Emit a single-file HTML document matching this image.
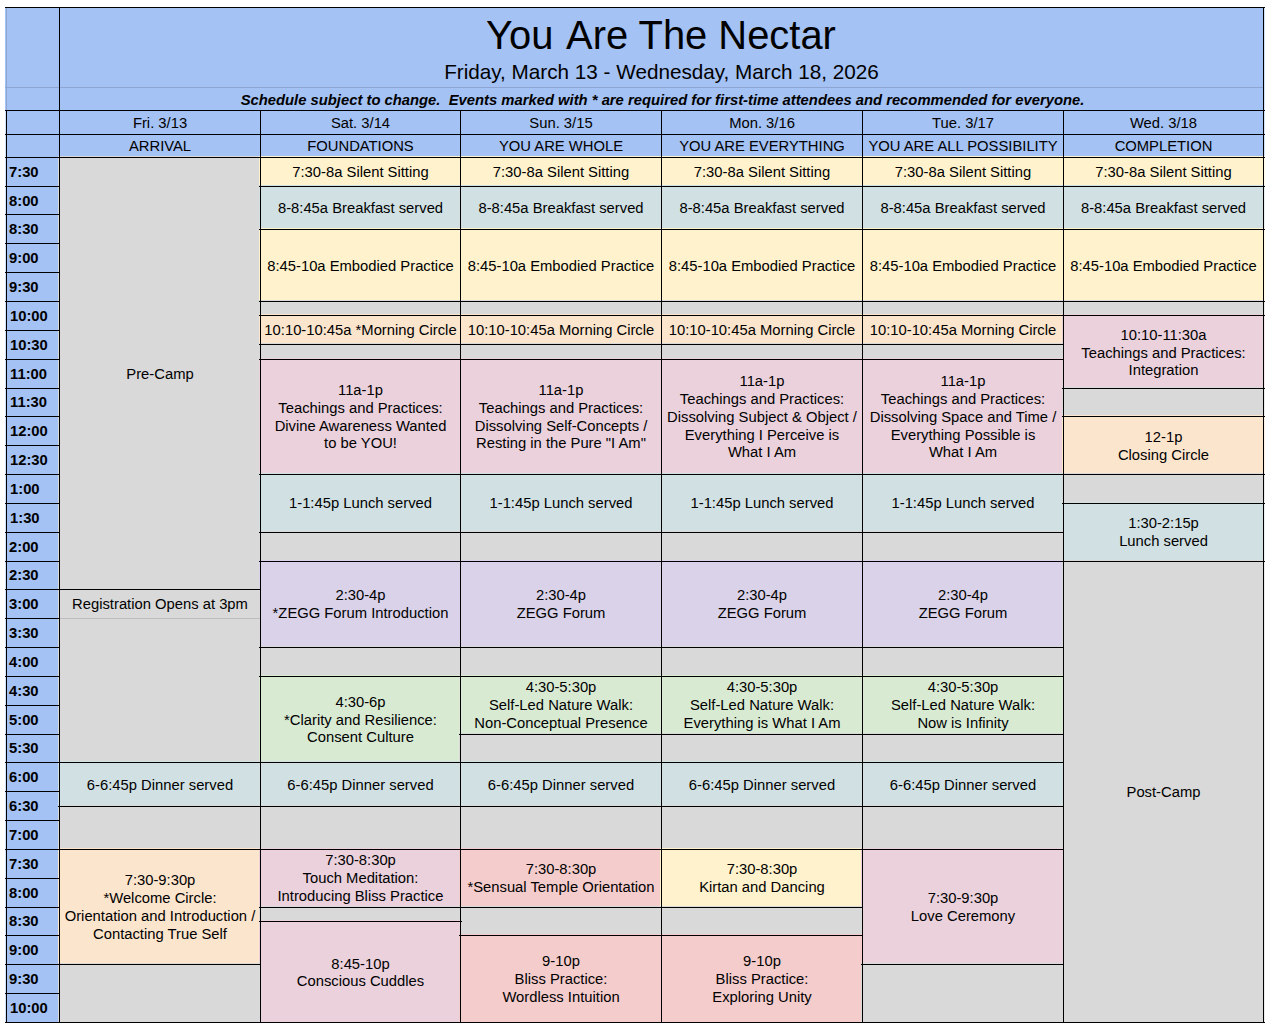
<!DOCTYPE html>
<html><head><meta charset="utf-8"><title>You Are The Nectar</title>
<style>
html,body{margin:0;padding:0;background:#fff;}
body{width:1270px;height:1030px;position:relative;overflow:hidden;font-family:"Liberation Sans",Arial,sans-serif;color:#000;}
.b{position:absolute;}
.c{position:absolute;height:18px;line-height:18px;text-align:center;font-size:14.79px;white-space:nowrap;}
.l{position:absolute;background:#000;}
.g{position:absolute;background:#8ea5d4;}
.g2{position:absolute;background:#bdbdbd;}
.t{text-align:left;font-weight:bold;}
</style></head><body>
<div class="b" style="left:5px;top:7px;width:1260px;height:150px;background:#a4c2f4"></div>
<div class="c" style="left:59.5px;top:9px;width:1203px;height:52px;font-size:39.92px;line-height:52px;">You <span style="margin-left:1.5px">Are</span> The Nectar</div>
<div class="c" style="left:60px;top:58px;width:1203px;height:28px;font-size:20.7px;line-height:28px;">Friday, March 13 - Wednesday, March 18, 2026</div>
<div class="c" style="left:61px;top:89px;width:1203px;height:22px;line-height:22px;font-size:14.8px;font-weight:bold;font-style:italic;white-space:pre;">Schedule subject to change.  Events marked with * are required for first-time attendees and recommended for everyone.</div>
<div class="c " style="left:60px;top:114px;width:200px">Fri. 3/13</div>
<div class="c " style="left:60px;top:137px;width:200px">ARRIVAL</div>
<div class="c " style="left:261px;top:114px;width:199px">Sat. 3/14</div>
<div class="c " style="left:261px;top:137px;width:199px">FOUNDATIONS</div>
<div class="c " style="left:461px;top:114px;width:200px">Sun. 3/15</div>
<div class="c " style="left:461px;top:137px;width:200px">YOU ARE WHOLE</div>
<div class="c " style="left:662px;top:114px;width:200px">Mon. 3/16</div>
<div class="c " style="left:662px;top:137px;width:200px">YOU ARE EVERYTHING</div>
<div class="c " style="left:863px;top:114px;width:200px">Tue. 3/17</div>
<div class="c " style="left:863px;top:137px;width:200px">YOU ARE ALL POSSIBILITY</div>
<div class="c " style="left:1064px;top:114px;width:199px">Wed. 3/18</div>
<div class="c " style="left:1064px;top:137px;width:199px">COMPLETION</div>
<div class="b" style="left:5px;top:157px;width:54px;height:865px;background:#a4c2f4"></div>
<div class="c t" style="left:9px;top:163px;width:50px">7:30</div>
<div class="c t" style="left:9px;top:192px;width:50px">8:00</div>
<div class="c t" style="left:9px;top:220px;width:50px">8:30</div>
<div class="c t" style="left:9px;top:249px;width:50px">9:00</div>
<div class="c t" style="left:9px;top:278px;width:50px">9:30</div>
<div class="c t" style="left:10px;top:307px;width:49px">10:00</div>
<div class="c t" style="left:10px;top:336px;width:49px">10:30</div>
<div class="c t" style="left:10px;top:365px;width:49px">11:00</div>
<div class="c t" style="left:10px;top:393px;width:49px">11:30</div>
<div class="c t" style="left:10px;top:422px;width:49px">12:00</div>
<div class="c t" style="left:10px;top:451px;width:49px">12:30</div>
<div class="c t" style="left:10px;top:480px;width:49px">1:00</div>
<div class="c t" style="left:10px;top:509px;width:49px">1:30</div>
<div class="c t" style="left:9px;top:538px;width:50px">2:00</div>
<div class="c t" style="left:9px;top:566px;width:50px">2:30</div>
<div class="c t" style="left:9px;top:595px;width:50px">3:00</div>
<div class="c t" style="left:9px;top:624px;width:50px">3:30</div>
<div class="c t" style="left:9px;top:653px;width:50px">4:00</div>
<div class="c t" style="left:9px;top:682px;width:50px">4:30</div>
<div class="c t" style="left:9px;top:711px;width:50px">5:00</div>
<div class="c t" style="left:9px;top:739px;width:50px">5:30</div>
<div class="c t" style="left:9px;top:768px;width:50px">6:00</div>
<div class="c t" style="left:9px;top:797px;width:50px">6:30</div>
<div class="c t" style="left:9px;top:826px;width:50px">7:00</div>
<div class="c t" style="left:9px;top:855px;width:50px">7:30</div>
<div class="c t" style="left:9px;top:884px;width:50px">8:00</div>
<div class="c t" style="left:9px;top:912px;width:50px">8:30</div>
<div class="c t" style="left:9px;top:941px;width:50px">9:00</div>
<div class="c t" style="left:9px;top:970px;width:50px">9:30</div>
<div class="c t" style="left:10px;top:999px;width:49px">10:00</div>
<div class="b" style="left:58px;top:156px;width:202px;height:433px;background:#d9d9d9"></div>
<div class="b" style="left:259px;top:156px;width:201px;height:30px;background:#fff2cc"></div>
<div class="b" style="left:459px;top:156px;width:202px;height:30px;background:#fff2cc"></div>
<div class="b" style="left:660px;top:156px;width:202px;height:30px;background:#fff2cc"></div>
<div class="b" style="left:861px;top:156px;width:202px;height:30px;background:#fff2cc"></div>
<div class="b" style="left:1062px;top:156px;width:203px;height:30px;background:#fff2cc"></div>
<div class="b" style="left:259px;top:185px;width:201px;height:44px;background:#d0e0e3"></div>
<div class="b" style="left:459px;top:185px;width:202px;height:44px;background:#d0e0e3"></div>
<div class="b" style="left:660px;top:185px;width:202px;height:44px;background:#d0e0e3"></div>
<div class="b" style="left:861px;top:185px;width:202px;height:44px;background:#d0e0e3"></div>
<div class="b" style="left:1062px;top:185px;width:203px;height:44px;background:#d0e0e3"></div>
<div class="b" style="left:259px;top:228px;width:201px;height:73px;background:#fff2cc"></div>
<div class="b" style="left:459px;top:228px;width:202px;height:73px;background:#fff2cc"></div>
<div class="b" style="left:660px;top:228px;width:202px;height:73px;background:#fff2cc"></div>
<div class="b" style="left:861px;top:228px;width:202px;height:73px;background:#fff2cc"></div>
<div class="b" style="left:1062px;top:228px;width:203px;height:73px;background:#fff2cc"></div>
<div class="b" style="left:259px;top:300px;width:201px;height:15px;background:#d9d9d9"></div>
<div class="b" style="left:459px;top:300px;width:202px;height:15px;background:#d9d9d9"></div>
<div class="b" style="left:660px;top:300px;width:202px;height:15px;background:#d9d9d9"></div>
<div class="b" style="left:861px;top:300px;width:202px;height:15px;background:#d9d9d9"></div>
<div class="b" style="left:1062px;top:300px;width:203px;height:15px;background:#d9d9d9"></div>
<div class="b" style="left:259px;top:314px;width:201px;height:30px;background:#fce5cd"></div>
<div class="b" style="left:459px;top:314px;width:202px;height:30px;background:#fce5cd"></div>
<div class="b" style="left:660px;top:314px;width:202px;height:30px;background:#fce5cd"></div>
<div class="b" style="left:861px;top:314px;width:202px;height:30px;background:#fce5cd"></div>
<div class="b" style="left:1062px;top:314px;width:203px;height:74px;background:#ead1dc"></div>
<div class="b" style="left:259px;top:343px;width:201px;height:16px;background:#d9d9d9"></div>
<div class="b" style="left:459px;top:343px;width:202px;height:16px;background:#d9d9d9"></div>
<div class="b" style="left:660px;top:343px;width:202px;height:16px;background:#d9d9d9"></div>
<div class="b" style="left:861px;top:343px;width:202px;height:16px;background:#d9d9d9"></div>
<div class="b" style="left:259px;top:358px;width:201px;height:116px;background:#ead1dc"></div>
<div class="b" style="left:459px;top:358px;width:202px;height:116px;background:#ead1dc"></div>
<div class="b" style="left:660px;top:358px;width:202px;height:116px;background:#ead1dc"></div>
<div class="b" style="left:861px;top:358px;width:202px;height:116px;background:#ead1dc"></div>
<div class="b" style="left:1062px;top:387px;width:203px;height:29px;background:#d9d9d9"></div>
<div class="b" style="left:1062px;top:415px;width:203px;height:59px;background:#fce5cd"></div>
<div class="b" style="left:259px;top:473px;width:201px;height:59px;background:#d0e0e3"></div>
<div class="b" style="left:459px;top:473px;width:202px;height:59px;background:#d0e0e3"></div>
<div class="b" style="left:660px;top:473px;width:202px;height:59px;background:#d0e0e3"></div>
<div class="b" style="left:861px;top:473px;width:202px;height:59px;background:#d0e0e3"></div>
<div class="b" style="left:1062px;top:473px;width:203px;height:30px;background:#d9d9d9"></div>
<div class="b" style="left:1062px;top:502px;width:203px;height:59px;background:#d0e0e3"></div>
<div class="b" style="left:259px;top:531px;width:201px;height:30px;background:#d9d9d9"></div>
<div class="b" style="left:459px;top:531px;width:202px;height:30px;background:#d9d9d9"></div>
<div class="b" style="left:660px;top:531px;width:202px;height:30px;background:#d9d9d9"></div>
<div class="b" style="left:861px;top:531px;width:202px;height:30px;background:#d9d9d9"></div>
<div class="b" style="left:259px;top:560px;width:201px;height:87px;background:#d9d2e9"></div>
<div class="b" style="left:459px;top:560px;width:202px;height:87px;background:#d9d2e9"></div>
<div class="b" style="left:660px;top:560px;width:202px;height:87px;background:#d9d2e9"></div>
<div class="b" style="left:861px;top:560px;width:202px;height:87px;background:#d9d2e9"></div>
<div class="b" style="left:1062px;top:560px;width:203px;height:462px;background:#d9d9d9"></div>
<div class="b" style="left:58px;top:588px;width:202px;height:30px;background:#d9d9d9"></div>
<div class="b" style="left:58px;top:617px;width:202px;height:145px;background:#d9d9d9"></div>
<div class="b" style="left:259px;top:646px;width:201px;height:30px;background:#d9d9d9"></div>
<div class="b" style="left:459px;top:646px;width:202px;height:30px;background:#d9d9d9"></div>
<div class="b" style="left:660px;top:646px;width:202px;height:30px;background:#d9d9d9"></div>
<div class="b" style="left:861px;top:646px;width:202px;height:30px;background:#d9d9d9"></div>
<div class="b" style="left:259px;top:675px;width:201px;height:87px;background:#d9ead3"></div>
<div class="b" style="left:459px;top:675px;width:202px;height:59px;background:#d9ead3"></div>
<div class="b" style="left:660px;top:675px;width:202px;height:59px;background:#d9ead3"></div>
<div class="b" style="left:861px;top:675px;width:202px;height:59px;background:#d9ead3"></div>
<div class="b" style="left:459px;top:733px;width:202px;height:29px;background:#d9d9d9"></div>
<div class="b" style="left:660px;top:733px;width:202px;height:29px;background:#d9d9d9"></div>
<div class="b" style="left:861px;top:733px;width:202px;height:29px;background:#d9d9d9"></div>
<div class="b" style="left:58px;top:761px;width:202px;height:45px;background:#d0e0e3"></div>
<div class="b" style="left:259px;top:761px;width:201px;height:45px;background:#d0e0e3"></div>
<div class="b" style="left:459px;top:761px;width:202px;height:45px;background:#d0e0e3"></div>
<div class="b" style="left:660px;top:761px;width:202px;height:45px;background:#d0e0e3"></div>
<div class="b" style="left:861px;top:761px;width:202px;height:45px;background:#d0e0e3"></div>
<div class="b" style="left:58px;top:805px;width:202px;height:44px;background:#d9d9d9"></div>
<div class="b" style="left:259px;top:805px;width:201px;height:44px;background:#d9d9d9"></div>
<div class="b" style="left:459px;top:805px;width:202px;height:44px;background:#d9d9d9"></div>
<div class="b" style="left:660px;top:805px;width:202px;height:44px;background:#d9d9d9"></div>
<div class="b" style="left:861px;top:805px;width:202px;height:44px;background:#d9d9d9"></div>
<div class="b" style="left:58px;top:848px;width:202px;height:116px;background:#fce5cd"></div>
<div class="b" style="left:259px;top:848px;width:201px;height:59px;background:#ead1dc"></div>
<div class="b" style="left:459px;top:848px;width:202px;height:59px;background:#f4cccc"></div>
<div class="b" style="left:660px;top:848px;width:202px;height:59px;background:#fff2cc"></div>
<div class="b" style="left:861px;top:848px;width:202px;height:116px;background:#ead1dc"></div>
<div class="b" style="left:259px;top:906px;width:201px;height:15px;background:#d9d9d9"></div>
<div class="b" style="left:459px;top:906px;width:202px;height:29px;background:#d9d9d9"></div>
<div class="b" style="left:660px;top:906px;width:202px;height:29px;background:#d9d9d9"></div>
<div class="b" style="left:259px;top:920px;width:201px;height:102px;background:#ead1dc"></div>
<div class="b" style="left:459px;top:934px;width:202px;height:88px;background:#f4cccc"></div>
<div class="b" style="left:660px;top:934px;width:202px;height:88px;background:#f4cccc"></div>
<div class="b" style="left:58px;top:963px;width:202px;height:59px;background:#d9d9d9"></div>
<div class="b" style="left:861px;top:963px;width:202px;height:59px;background:#d9d9d9"></div>
<div class="c " style="left:60px;top:365px;width:200px">Pre-Camp</div>
<div class="c " style="left:261px;top:163px;width:199px">7:30-8a Silent Sitting</div>
<div class="c " style="left:461px;top:163px;width:200px">7:30-8a Silent Sitting</div>
<div class="c " style="left:662px;top:163px;width:200px">7:30-8a Silent Sitting</div>
<div class="c " style="left:863px;top:163px;width:200px">7:30-8a Silent Sitting</div>
<div class="c " style="left:1064px;top:163px;width:199px">7:30-8a Silent Sitting</div>
<div class="c " style="left:261px;top:199px;width:199px">8-8:45a Breakfast served</div>
<div class="c " style="left:461px;top:199px;width:200px">8-8:45a Breakfast served</div>
<div class="c " style="left:662px;top:199px;width:200px">8-8:45a Breakfast served</div>
<div class="c " style="left:863px;top:199px;width:200px">8-8:45a Breakfast served</div>
<div class="c " style="left:1064px;top:199px;width:199px">8-8:45a Breakfast served</div>
<div class="c " style="left:261px;top:257px;width:199px">8:45-10a Embodied Practice</div>
<div class="c " style="left:461px;top:257px;width:200px">8:45-10a Embodied Practice</div>
<div class="c " style="left:662px;top:257px;width:200px">8:45-10a Embodied Practice</div>
<div class="c " style="left:863px;top:257px;width:200px">8:45-10a Embodied Practice</div>
<div class="c " style="left:1064px;top:257px;width:199px">8:45-10a Embodied Practice</div>
<div class="c " style="left:261px;top:321px;width:199px">10:10-10:45a *Morning Circle</div>
<div class="c " style="left:461px;top:321px;width:200px">10:10-10:45a Morning Circle</div>
<div class="c " style="left:662px;top:321px;width:200px">10:10-10:45a Morning Circle</div>
<div class="c " style="left:863px;top:321px;width:200px">10:10-10:45a Morning Circle</div>
<div class="c " style="left:1064px;top:326px;width:199px">10:10-11:30a</div>
<div class="c " style="left:1064px;top:344px;width:199px">Teachings and Practices:</div>
<div class="c " style="left:1064px;top:361px;width:199px">Integration</div>
<div class="c " style="left:261px;top:381px;width:199px">11a-1p</div>
<div class="c " style="left:261px;top:399px;width:199px">Teachings and Practices:</div>
<div class="c " style="left:261px;top:417px;width:199px">Divine Awareness Wanted</div>
<div class="c " style="left:261px;top:434px;width:199px">to be YOU!</div>
<div class="c " style="left:461px;top:381px;width:200px">11a-1p</div>
<div class="c " style="left:461px;top:399px;width:200px">Teachings and Practices:</div>
<div class="c " style="left:461px;top:417px;width:200px">Dissolving Self-Concepts /</div>
<div class="c " style="left:461px;top:434px;width:200px">Resting in the Pure "I Am"</div>
<div class="c " style="left:662px;top:372px;width:200px">11a-1p</div>
<div class="c " style="left:662px;top:390px;width:200px">Teachings and Practices:</div>
<div class="c " style="left:662px;top:408px;width:200px">Dissolving Subject &amp; Object /</div>
<div class="c " style="left:662px;top:426px;width:200px">Everything I Perceive is</div>
<div class="c " style="left:662px;top:443px;width:200px">What I Am</div>
<div class="c " style="left:863px;top:372px;width:200px">11a-1p</div>
<div class="c " style="left:863px;top:390px;width:200px">Teachings and Practices:</div>
<div class="c " style="left:863px;top:408px;width:200px">Dissolving Space and Time /</div>
<div class="c " style="left:863px;top:426px;width:200px">Everything Possible is</div>
<div class="c " style="left:863px;top:443px;width:200px">What I Am</div>
<div class="c " style="left:1064px;top:428px;width:199px">12-1p</div>
<div class="c " style="left:1064px;top:446px;width:199px">Closing Circle</div>
<div class="c " style="left:261px;top:494px;width:199px">1-1:45p Lunch served</div>
<div class="c " style="left:461px;top:494px;width:200px">1-1:45p Lunch served</div>
<div class="c " style="left:662px;top:494px;width:200px">1-1:45p Lunch served</div>
<div class="c " style="left:863px;top:494px;width:200px">1-1:45p Lunch served</div>
<div class="c " style="left:1064px;top:514px;width:199px">1:30-2:15p</div>
<div class="c " style="left:1064px;top:532px;width:199px">Lunch served</div>
<div class="c " style="left:261px;top:586px;width:199px">2:30-4p</div>
<div class="c " style="left:261px;top:604px;width:199px">*ZEGG Forum Introduction</div>
<div class="c " style="left:461px;top:586px;width:200px">2:30-4p</div>
<div class="c " style="left:461px;top:604px;width:200px">ZEGG Forum</div>
<div class="c " style="left:662px;top:586px;width:200px">2:30-4p</div>
<div class="c " style="left:662px;top:604px;width:200px">ZEGG Forum</div>
<div class="c " style="left:863px;top:586px;width:200px">2:30-4p</div>
<div class="c " style="left:863px;top:604px;width:200px">ZEGG Forum</div>
<div class="c " style="left:1064px;top:783px;width:199px">Post-Camp</div>
<div class="c " style="left:60px;top:595px;width:200px">Registration Opens at 3pm</div>
<div class="c " style="left:261px;top:693px;width:199px">4:30-6p</div>
<div class="c " style="left:261px;top:711px;width:199px">*Clarity and Resilience:</div>
<div class="c " style="left:261px;top:728px;width:199px">Consent Culture</div>
<div class="c " style="left:461px;top:678px;width:200px">4:30-5:30p</div>
<div class="c " style="left:461px;top:696px;width:200px">Self-Led Nature Walk:</div>
<div class="c " style="left:461px;top:714px;width:200px">Non-Conceptual Presence</div>
<div class="c " style="left:662px;top:678px;width:200px">4:30-5:30p</div>
<div class="c " style="left:662px;top:696px;width:200px">Self-Led Nature Walk:</div>
<div class="c " style="left:662px;top:714px;width:200px">Everything is What I Am</div>
<div class="c " style="left:863px;top:678px;width:200px">4:30-5:30p</div>
<div class="c " style="left:863px;top:696px;width:200px">Self-Led Nature Walk:</div>
<div class="c " style="left:863px;top:714px;width:200px">Now is Infinity</div>
<div class="c " style="left:60px;top:776px;width:200px">6-6:45p Dinner served</div>
<div class="c " style="left:261px;top:776px;width:199px">6-6:45p Dinner served</div>
<div class="c " style="left:461px;top:776px;width:200px">6-6:45p Dinner served</div>
<div class="c " style="left:662px;top:776px;width:200px">6-6:45p Dinner served</div>
<div class="c " style="left:863px;top:776px;width:200px">6-6:45p Dinner served</div>
<div class="c " style="left:60px;top:871px;width:200px">7:30-9:30p</div>
<div class="c " style="left:60px;top:889px;width:200px">*Welcome Circle:</div>
<div class="c " style="left:60px;top:907px;width:200px">Orientation and Introduction /</div>
<div class="c " style="left:60px;top:925px;width:200px">Contacting True Self</div>
<div class="c " style="left:261px;top:851px;width:199px">7:30-8:30p</div>
<div class="c " style="left:261px;top:869px;width:199px">Touch Meditation:</div>
<div class="c " style="left:261px;top:887px;width:199px">Introducing Bliss Practice</div>
<div class="c " style="left:461px;top:860px;width:200px">7:30-8:30p</div>
<div class="c " style="left:461px;top:878px;width:200px">*Sensual Temple Orientation</div>
<div class="c " style="left:662px;top:860px;width:200px">7:30-8:30p</div>
<div class="c " style="left:662px;top:878px;width:200px">Kirtan and Dancing</div>
<div class="c " style="left:863px;top:889px;width:200px">7:30-9:30p</div>
<div class="c " style="left:863px;top:907px;width:200px">Love Ceremony</div>
<div class="c " style="left:261px;top:955px;width:199px">8:45-10p</div>
<div class="c " style="left:261px;top:972px;width:199px">Conscious Cuddles</div>
<div class="c " style="left:461px;top:952px;width:200px">9-10p</div>
<div class="c " style="left:461px;top:970px;width:200px">Bliss Practice:</div>
<div class="c " style="left:461px;top:988px;width:200px">Wordless Intuition</div>
<div class="c " style="left:662px;top:952px;width:200px">9-10p</div>
<div class="c " style="left:662px;top:970px;width:200px">Bliss Practice:</div>
<div class="c " style="left:662px;top:988px;width:200px">Exploring Unity</div>
<div class="b" style="left:1264px;top:8px;width:1px;height:1014px;background:rgba(255,255,255,.5)"></div>
<div class="b" style="left:5px;top:111px;width:1px;height:911px;background:rgba(255,255,255,.5)"></div>
<div class="l" style="left:5px;top:7px;width:1260px;height:1px"></div>
<div class="g" style="left:5px;top:87px;width:1259px;height:1px"></div>
<div class="l" style="left:5px;top:110px;width:1260px;height:1px"></div>
<div class="l" style="left:5px;top:134px;width:1260px;height:1px"></div>
<div class="l" style="left:5px;top:157px;width:1260px;height:1px"></div>
<div class="l" style="left:5px;top:1022px;width:1260px;height:1px"></div>
<div class="g" style="left:6px;top:8px;width:1px;height:102px"></div>
<div class="l" style="left:6px;top:110px;width:1px;height:913px"></div>
<div class="l" style="left:59px;top:7px;width:1px;height:1016px"></div>
<div class="l" style="left:260px;top:110px;width:1px;height:913px"></div>
<div class="l" style="left:460px;top:110px;width:1px;height:913px"></div>
<div class="l" style="left:661px;top:110px;width:1px;height:913px"></div>
<div class="l" style="left:862px;top:110px;width:1px;height:913px"></div>
<div class="l" style="left:1063px;top:110px;width:1px;height:913px"></div>
<div class="l" style="left:1263px;top:7px;width:1px;height:1016px"></div>
<div class="l" style="left:5px;top:186px;width:55px;height:1px"></div>
<div class="l" style="left:5px;top:214px;width:55px;height:1px"></div>
<div class="l" style="left:5px;top:243px;width:55px;height:1px"></div>
<div class="l" style="left:5px;top:272px;width:55px;height:1px"></div>
<div class="l" style="left:5px;top:301px;width:55px;height:1px"></div>
<div class="l" style="left:5px;top:330px;width:55px;height:1px"></div>
<div class="l" style="left:5px;top:359px;width:55px;height:1px"></div>
<div class="l" style="left:5px;top:388px;width:55px;height:1px"></div>
<div class="l" style="left:5px;top:416px;width:55px;height:1px"></div>
<div class="l" style="left:5px;top:445px;width:55px;height:1px"></div>
<div class="l" style="left:5px;top:474px;width:55px;height:1px"></div>
<div class="l" style="left:5px;top:503px;width:55px;height:1px"></div>
<div class="l" style="left:5px;top:532px;width:55px;height:1px"></div>
<div class="l" style="left:5px;top:561px;width:55px;height:1px"></div>
<div class="l" style="left:5px;top:589px;width:55px;height:1px"></div>
<div class="l" style="left:5px;top:618px;width:55px;height:1px"></div>
<div class="l" style="left:5px;top:647px;width:55px;height:1px"></div>
<div class="l" style="left:5px;top:676px;width:55px;height:1px"></div>
<div class="l" style="left:5px;top:705px;width:55px;height:1px"></div>
<div class="l" style="left:5px;top:734px;width:55px;height:1px"></div>
<div class="l" style="left:5px;top:762px;width:55px;height:1px"></div>
<div class="l" style="left:5px;top:791px;width:55px;height:1px"></div>
<div class="l" style="left:5px;top:820px;width:55px;height:1px"></div>
<div class="l" style="left:5px;top:849px;width:55px;height:1px"></div>
<div class="l" style="left:5px;top:878px;width:55px;height:1px"></div>
<div class="l" style="left:5px;top:907px;width:55px;height:1px"></div>
<div class="l" style="left:5px;top:935px;width:55px;height:1px"></div>
<div class="l" style="left:5px;top:964px;width:55px;height:1px"></div>
<div class="l" style="left:5px;top:993px;width:55px;height:1px"></div>
<div class="l" style="left:58px;top:589px;width:203px;height:1px"></div>
<div class="g2" style="left:60px;top:618px;width:200px;height:1px"></div>
<div class="l" style="left:58px;top:762px;width:203px;height:1px"></div>
<div class="l" style="left:58px;top:806px;width:203px;height:1px"></div>
<div class="l" style="left:58px;top:849px;width:203px;height:1px"></div>
<div class="l" style="left:58px;top:964px;width:203px;height:1px"></div>
<div class="l" style="left:259px;top:186px;width:202px;height:1px"></div>
<div class="l" style="left:259px;top:229px;width:202px;height:1px"></div>
<div class="l" style="left:259px;top:301px;width:202px;height:1px"></div>
<div class="l" style="left:259px;top:315px;width:202px;height:1px"></div>
<div class="l" style="left:259px;top:344px;width:202px;height:1px"></div>
<div class="l" style="left:259px;top:359px;width:202px;height:1px"></div>
<div class="l" style="left:259px;top:474px;width:202px;height:1px"></div>
<div class="l" style="left:259px;top:532px;width:202px;height:1px"></div>
<div class="l" style="left:259px;top:561px;width:202px;height:1px"></div>
<div class="l" style="left:259px;top:647px;width:202px;height:1px"></div>
<div class="l" style="left:259px;top:676px;width:202px;height:1px"></div>
<div class="l" style="left:259px;top:762px;width:202px;height:1px"></div>
<div class="l" style="left:259px;top:806px;width:202px;height:1px"></div>
<div class="l" style="left:259px;top:849px;width:202px;height:1px"></div>
<div class="l" style="left:259px;top:907px;width:202px;height:1px"></div>
<div class="l" style="left:259px;top:921px;width:203px;height:1px"></div>
<div class="l" style="left:459px;top:186px;width:203px;height:1px"></div>
<div class="l" style="left:459px;top:229px;width:203px;height:1px"></div>
<div class="l" style="left:459px;top:301px;width:203px;height:1px"></div>
<div class="l" style="left:459px;top:315px;width:203px;height:1px"></div>
<div class="l" style="left:459px;top:344px;width:203px;height:1px"></div>
<div class="l" style="left:459px;top:359px;width:203px;height:1px"></div>
<div class="l" style="left:459px;top:474px;width:203px;height:1px"></div>
<div class="l" style="left:459px;top:532px;width:203px;height:1px"></div>
<div class="l" style="left:459px;top:561px;width:203px;height:1px"></div>
<div class="l" style="left:459px;top:647px;width:203px;height:1px"></div>
<div class="l" style="left:459px;top:676px;width:203px;height:1px"></div>
<div class="l" style="left:459px;top:734px;width:203px;height:1px"></div>
<div class="l" style="left:459px;top:762px;width:203px;height:1px"></div>
<div class="l" style="left:459px;top:806px;width:203px;height:1px"></div>
<div class="l" style="left:459px;top:849px;width:203px;height:1px"></div>
<div class="l" style="left:459px;top:907px;width:203px;height:1px"></div>
<div class="l" style="left:459px;top:935px;width:203px;height:1px"></div>
<div class="l" style="left:660px;top:186px;width:203px;height:1px"></div>
<div class="l" style="left:660px;top:229px;width:203px;height:1px"></div>
<div class="l" style="left:660px;top:301px;width:203px;height:1px"></div>
<div class="l" style="left:660px;top:315px;width:203px;height:1px"></div>
<div class="l" style="left:660px;top:344px;width:203px;height:1px"></div>
<div class="l" style="left:660px;top:359px;width:203px;height:1px"></div>
<div class="l" style="left:660px;top:474px;width:203px;height:1px"></div>
<div class="l" style="left:660px;top:532px;width:203px;height:1px"></div>
<div class="l" style="left:660px;top:561px;width:203px;height:1px"></div>
<div class="l" style="left:660px;top:647px;width:203px;height:1px"></div>
<div class="l" style="left:660px;top:676px;width:203px;height:1px"></div>
<div class="l" style="left:660px;top:734px;width:203px;height:1px"></div>
<div class="l" style="left:660px;top:762px;width:203px;height:1px"></div>
<div class="l" style="left:660px;top:806px;width:203px;height:1px"></div>
<div class="l" style="left:660px;top:849px;width:203px;height:1px"></div>
<div class="l" style="left:660px;top:907px;width:203px;height:1px"></div>
<div class="l" style="left:660px;top:935px;width:203px;height:1px"></div>
<div class="l" style="left:861px;top:186px;width:203px;height:1px"></div>
<div class="l" style="left:861px;top:229px;width:203px;height:1px"></div>
<div class="l" style="left:861px;top:301px;width:203px;height:1px"></div>
<div class="l" style="left:861px;top:315px;width:203px;height:1px"></div>
<div class="l" style="left:861px;top:344px;width:203px;height:1px"></div>
<div class="l" style="left:861px;top:359px;width:203px;height:1px"></div>
<div class="l" style="left:861px;top:474px;width:203px;height:1px"></div>
<div class="l" style="left:861px;top:532px;width:203px;height:1px"></div>
<div class="l" style="left:861px;top:561px;width:203px;height:1px"></div>
<div class="l" style="left:861px;top:647px;width:203px;height:1px"></div>
<div class="l" style="left:861px;top:676px;width:203px;height:1px"></div>
<div class="l" style="left:861px;top:734px;width:203px;height:1px"></div>
<div class="l" style="left:861px;top:762px;width:203px;height:1px"></div>
<div class="l" style="left:861px;top:806px;width:203px;height:1px"></div>
<div class="l" style="left:861px;top:849px;width:203px;height:1px"></div>
<div class="l" style="left:861px;top:964px;width:203px;height:1px"></div>
<div class="l" style="left:1062px;top:186px;width:203px;height:1px"></div>
<div class="l" style="left:1062px;top:229px;width:203px;height:1px"></div>
<div class="l" style="left:1062px;top:301px;width:203px;height:1px"></div>
<div class="l" style="left:1062px;top:315px;width:203px;height:1px"></div>
<div class="l" style="left:1062px;top:388px;width:203px;height:1px"></div>
<div class="l" style="left:1062px;top:416px;width:203px;height:1px"></div>
<div class="l" style="left:1062px;top:474px;width:203px;height:1px"></div>
<div class="l" style="left:1062px;top:503px;width:203px;height:1px"></div>
<div class="l" style="left:1062px;top:561px;width:203px;height:1px"></div>
</body></html>
